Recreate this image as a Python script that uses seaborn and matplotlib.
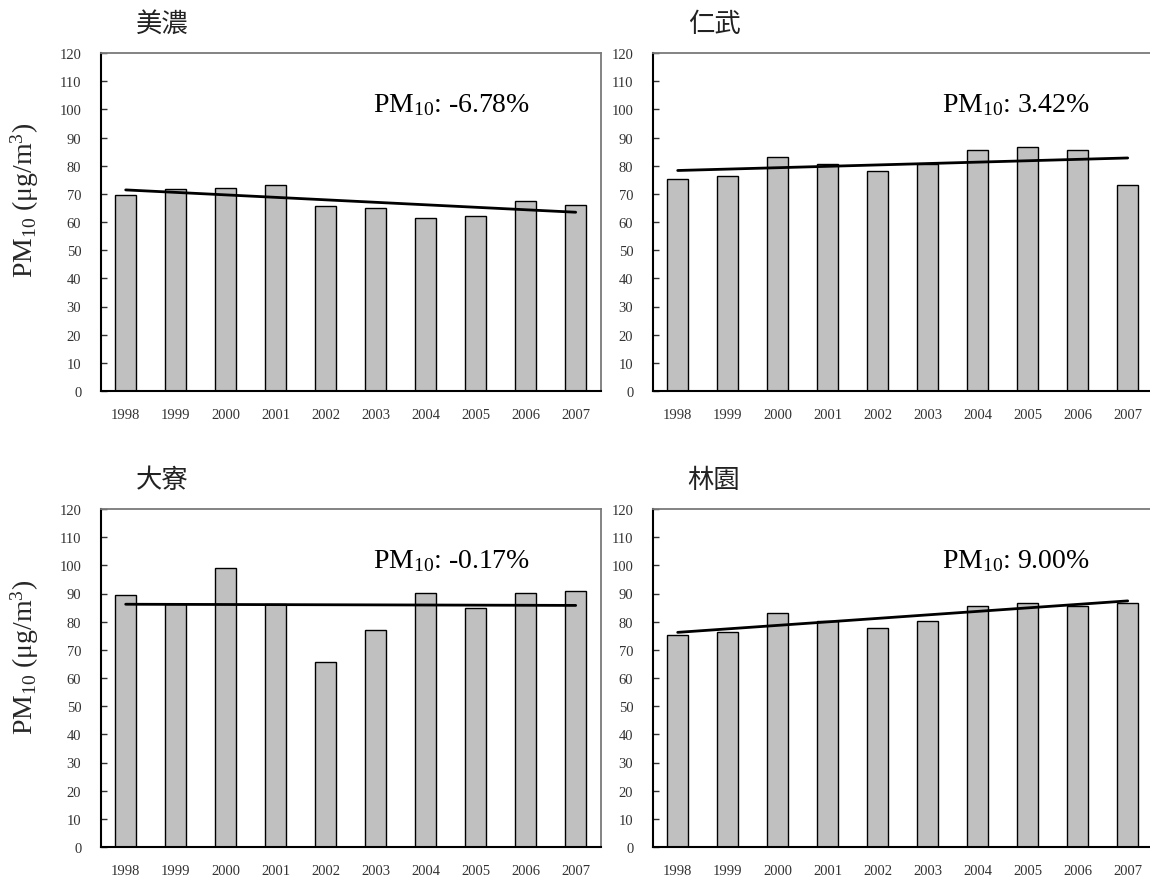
import numpy as np
import matplotlib
matplotlib.use("Agg")
import matplotlib.pyplot as plt
import seaborn as sns

# Annual mean PM10 concentrations (µg/m³) at four monitoring stations
years = ["1998", "1999", "2000", "2001", "2002", "2003", "2004", "2005", "2006", "2007"]
stations = ["美濃", "仁武", "大寮", "林園"]
meinong = [69.5, 71.6, 72.1, 73.3, 65.7, 64.8, 61.5, 62.3, 67.4, 66.1]
renwu = [75.4, 76.2, 83.2, 80.6, 78.0, 80.6, 85.5, 86.8, 85.5, 73.3]
daliao = [89.4, 86.3, 99.1, 86.3, 65.6, 77.0, 90.1, 85.0, 90.1, 90.9]
linyuan = [75.3, 76.3, 83.0, 80.4, 77.8, 80.4, 85.6, 86.8, 85.6, 86.7]
trend_labels = ["-6.78%", "3.42%", "-0.17%", "9.00%"]
y_ticks = list(range(0, 121, 10))

series = [meinong, renwu, daliao, linyuan]

sns.set_style("white")
plt.rcParams["font.family"] = ["Liberation Serif", "Noto Sans CJK TC", "DejaVu Sans"]
plt.rcParams["mathtext.fontset"] = "custom"
plt.rcParams["mathtext.rm"] = "Liberation Serif"
plt.rcParams["mathtext.it"] = "Liberation Serif:italic"
plt.rcParams["mathtext.bf"] = "Liberation Serif:bold"

W, H = 1150, 879
fig = plt.figure(figsize=(W / 100, H / 100), dpi=100)

# axes boxes in pixels: (left, top, width, height)
boxes = [(100.7, 54, 500, 338), (652.7, 54, 500, 338),
         (100.7, 510, 500, 338), (652.7, 510, 500, 338)]
label_x = [0.545, 0.578, 0.545, 0.578]

for i, (name, vals, pct) in enumerate(zip(stations, series, trend_labels)):
    l, t, w, h = boxes[i]
    ax = fig.add_axes([l / W, 1 - (t + h) / H, w / W, h / H])

    sns.barplot(x=years, y=vals, color="#c0c0c0", saturation=1,
                edgecolor="black", linewidth=1.0, width=0.41, ax=ax)
    sns.regplot(x=np.arange(len(years)), y=np.array(vals), scatter=False,
                ci=None, truncate=True, color="black",
                line_kws={"lw": 2.0}, ax=ax)

    ax.set_xlim(-0.5, 9.5)
    ax.set_ylim(0, 120)
    ax.set_yticks(y_ticks)
    ax.set_yticklabels([str(v) for v in y_ticks])
    ax.set_xlabel("")
    ax.set_ylabel("")

    ax.tick_params(axis="y", direction="in", length=4, width=1.0,
                   left=True, pad=14, labelsize=10.5, colors="#333333")
    ax.tick_params(axis="x", length=0, pad=12.5, labelsize=10.5, colors="#333333")

    for side in ("left", "bottom"):
        ax.spines[side].set_color("black")
        ax.spines[side].set_linewidth(1.5)
    for side in ("top", "right"):
        ax.spines[side].set_color("#7a7a7a")
        ax.spines[side].set_linewidth(1.3)

    ax.text(label_x[i], 99.5, r"PM$_{10}$: " + pct, transform=ax.get_yaxis_transform(),
            ha="left", va="baseline", fontsize=20, color="black")

    ax.text(0.07, 1.087, name, transform=ax.transAxes, ha="left", va="center",
            fontsize=19, family=["Noto Sans CJK TC", "DejaVu Sans"], color="#222222")

# shared y-axis labels for each row
for yc in (200, 657):
    fig.text(25 / W, 1 - yc / H, r"PM$_{10}$ ($\mathrm{\mu}$g/m$^{3}$)",
             rotation=90, ha="center", va="center", fontsize=20)

fig.savefig("out.png", dpi=100)
